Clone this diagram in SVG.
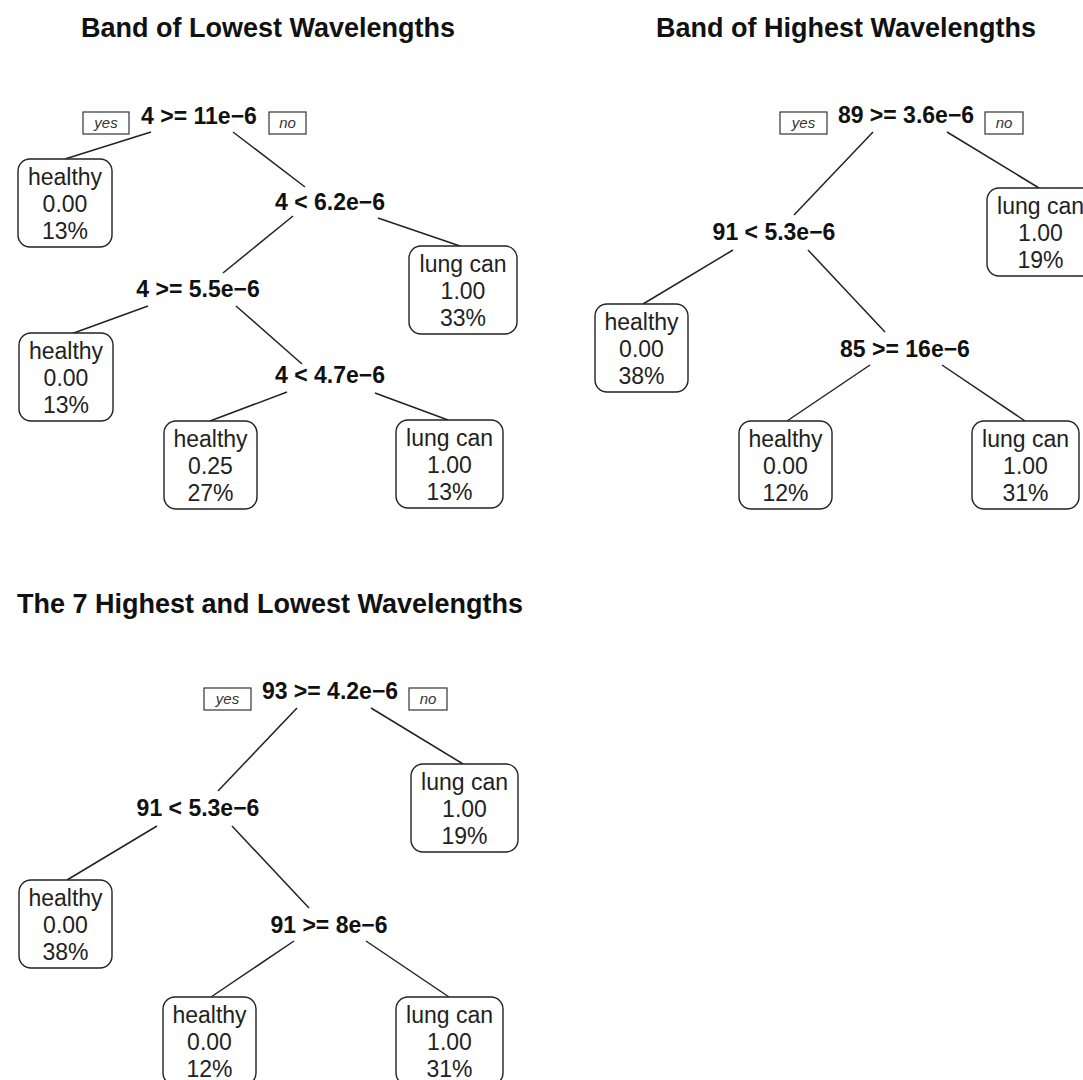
<svg xmlns="http://www.w3.org/2000/svg" width="1083" height="1080" viewBox="0 0 1083 1080">
<style>
.title{font-family:"Liberation Sans",Arial,sans-serif;font-weight:bold;font-size:27px;fill:#111;text-anchor:middle}
.split{font-family:"Liberation Sans",Arial,sans-serif;font-weight:bold;font-size:23px;fill:#111;text-anchor:middle}
.leaf rect{fill:#fff;stroke:#222;stroke-width:1.4}
.leaf text{font-family:"Liberation Sans",Arial,sans-serif;font-size:23px;fill:#222;text-anchor:middle}
.yn rect{fill:#fff;stroke:#333;stroke-width:1.2}
.yn text{font-family:"Liberation Sans",Arial,sans-serif;font-style:italic;font-size:15px;fill:#333;text-anchor:middle}
.edges line{stroke:#222;stroke-width:1.5}
</style>
<rect width="1083" height="1080" fill="#fff"/>

<!-- Titles -->
<text class="title" x="268" y="37">Band of Lowest Wavelengths</text>
<text class="title" x="846" y="37">Band of Highest Wavelengths</text>
<text class="title" x="270" y="613">The 7 Highest and Lowest Wavelengths</text>

<!-- Connectors -->
<g id="connectors" class="edges">
  <!-- panel 1 -->
  <line x1="151" y1="132" x2="65" y2="159"/>
  <line x1="233" y1="132" x2="305" y2="187"/>
  <line x1="293" y1="216" x2="223" y2="273"/>
  <line x1="378" y1="218" x2="460" y2="246"/>
  <line x1="148" y1="306" x2="71" y2="334"/>
  <line x1="236" y1="306" x2="302" y2="364"/>
  <line x1="287" y1="392" x2="210" y2="421"/>
  <line x1="375" y1="393" x2="448" y2="420"/>
  <!-- panel 2 -->
  <line x1="873" y1="132" x2="794" y2="215"/>
  <line x1="947" y1="132" x2="1039" y2="188"/>
  <line x1="733" y1="250" x2="643" y2="304"/>
  <line x1="808" y1="250" x2="885" y2="332"/>
  <line x1="870" y1="365" x2="787" y2="421"/>
  <line x1="942" y1="365" x2="1025" y2="421"/>
  <!-- panel 3 -->
  <line x1="297" y1="708" x2="218" y2="791"/>
  <line x1="371" y1="708" x2="463" y2="764"/>
  <line x1="157" y1="826" x2="67" y2="880"/>
  <line x1="232" y1="826" x2="309" y2="908"/>
  <line x1="294" y1="941" x2="211" y2="997"/>
  <line x1="366" y1="941" x2="449" y2="997"/>
</g>

<!-- Panel 1 nodes -->
<g id="p1-root">
  <g class="yn"><rect x="83" y="112" width="46" height="22"/><text x="106" y="128">yes</text></g>
  <text class="split" x="199" y="124">4 &gt;= 11e−6</text>
  <g class="yn"><rect x="269" y="112" width="37" height="22"/><text x="287.5" y="128">no</text></g>
</g>
<g id="p1-leaf1" class="leaf"><rect x="18" y="159" width="94" height="88" rx="12"/><text x="65" y="185">healthy</text><text x="65" y="212">0.00</text><text x="65" y="239">13%</text></g>
<g id="p1-split2"><text class="split" x="330" y="210">4 &lt; 6.2e−6</text></g>
<g id="p1-leaf2" class="leaf"><rect x="409" y="246" width="108" height="88" rx="12"/><text x="463" y="272">lung can</text><text x="463" y="299">1.00</text><text x="463" y="326">33%</text></g>
<g id="p1-split3"><text class="split" x="198" y="297">4 &gt;= 5.5e−6</text></g>
<g id="p1-leaf3" class="leaf"><rect x="19" y="333" width="94" height="88" rx="12"/><text x="66" y="359">healthy</text><text x="66" y="386">0.00</text><text x="66" y="413">13%</text></g>
<g id="p1-split4"><text class="split" x="330" y="383">4 &lt; 4.7e−6</text></g>
<g id="p1-leaf4" class="leaf"><rect x="164" y="421" width="93" height="88" rx="12"/><text x="210.5" y="447">healthy</text><text x="210.5" y="474">0.25</text><text x="210.5" y="501">27%</text></g>
<g id="p1-leaf5" class="leaf"><rect x="396" y="420" width="107" height="88" rx="12"/><text x="449.5" y="446">lung can</text><text x="449.5" y="473">1.00</text><text x="449.5" y="500">13%</text></g>

<!-- Panel 2 nodes -->
<g id="p2-root">
  <g class="yn"><rect x="780" y="112" width="47" height="22"/><text x="803.5" y="128">yes</text></g>
  <text class="split" x="906" y="123">89 &gt;= 3.6e−6</text>
  <g class="yn"><rect x="985" y="112" width="38" height="22"/><text x="1004" y="128">no</text></g>
</g>
<g id="p2-leaf1" class="leaf"><rect x="987" y="188" width="107" height="88" rx="12"/><text x="1040.5" y="214">lung can</text><text x="1040.5" y="241">1.00</text><text x="1040.5" y="268">19%</text></g>
<g id="p2-split2"><text class="split" x="774" y="240">91 &lt; 5.3e−6</text></g>
<g id="p2-leaf2" class="leaf"><rect x="595" y="304" width="93" height="88" rx="12"/><text x="641.5" y="330">healthy</text><text x="641.5" y="357">0.00</text><text x="641.5" y="384">38%</text></g>
<g id="p2-split3"><text class="split" x="905" y="357">85 &gt;= 16e−6</text></g>
<g id="p2-leaf3" class="leaf"><rect x="739" y="421" width="93" height="88" rx="12"/><text x="785.5" y="447">healthy</text><text x="785.5" y="474">0.00</text><text x="785.5" y="501">12%</text></g>
<g id="p2-leaf4" class="leaf"><rect x="972" y="421" width="107" height="88" rx="12"/><text x="1025.5" y="447">lung can</text><text x="1025.5" y="474">1.00</text><text x="1025.5" y="501">31%</text></g>

<!-- Panel 3 nodes -->
<g id="p3-root">
  <g class="yn"><rect x="204" y="688" width="47" height="22"/><text x="227.5" y="704">yes</text></g>
  <text class="split" x="330" y="699">93 &gt;= 4.2e−6</text>
  <g class="yn"><rect x="409" y="688" width="38" height="22"/><text x="428" y="704">no</text></g>
</g>
<g id="p3-leaf1" class="leaf"><rect x="411" y="764" width="107" height="88" rx="12"/><text x="464.5" y="790">lung can</text><text x="464.5" y="817">1.00</text><text x="464.5" y="844">19%</text></g>
<g id="p3-split2"><text class="split" x="198" y="816">91 &lt; 5.3e−6</text></g>
<g id="p3-leaf2" class="leaf"><rect x="19" y="880" width="93" height="88" rx="12"/><text x="65.5" y="906">healthy</text><text x="65.5" y="933">0.00</text><text x="65.5" y="960">38%</text></g>
<g id="p3-split3"><text class="split" x="329" y="933">91 &gt;= 8e−6</text></g>
<g id="p3-leaf3" class="leaf"><rect x="163" y="997" width="93" height="88" rx="12"/><text x="209.5" y="1023">healthy</text><text x="209.5" y="1050">0.00</text><text x="209.5" y="1077">12%</text></g>
<g id="p3-leaf4" class="leaf"><rect x="396" y="997" width="107" height="88" rx="12"/><text x="449.5" y="1023">lung can</text><text x="449.5" y="1050">1.00</text><text x="449.5" y="1077">31%</text></g>
</svg>
